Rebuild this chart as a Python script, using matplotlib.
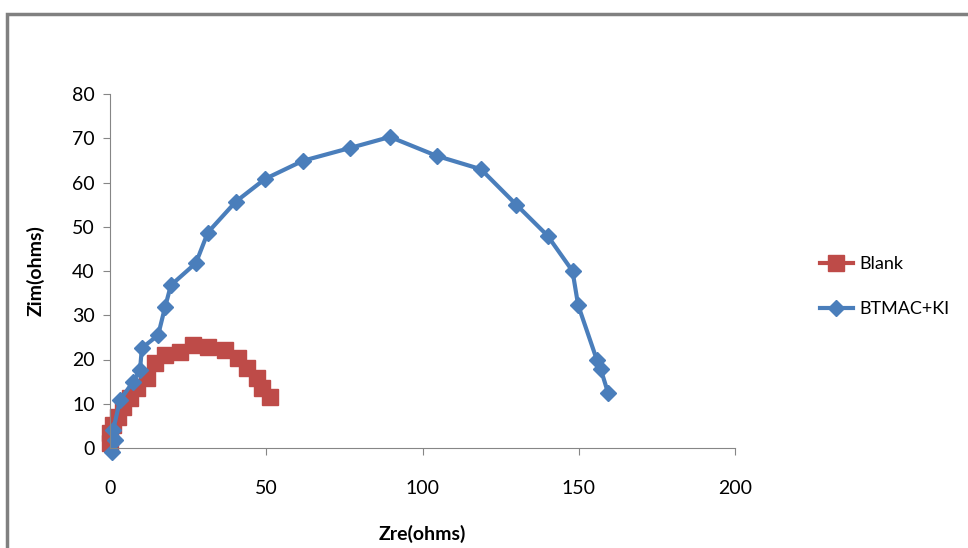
import matplotlib
matplotlib.use("Agg")
import matplotlib.pyplot as plt
from matplotlib.patches import Rectangle

plt.rcParams['font.family'] = ['Lato', 'DejaVu Sans']

blank_zre = [0, 0, 1.1, 2.7, 4.3, 6.4, 8.5, 11.7, 14.4, 17.6, 22.4, 26.5,
             31.5, 36.8, 40.9, 43.7, 46.9, 48.7, 51.2]
blank_zim = [1.1, 3.3, 5.2, 7.1, 9.3, 11.2, 13.5, 15.8, 19.1, 21.0, 21.8, 23.3,
             22.9, 22.1, 20.3, 18.0, 15.8, 13.5, 11.6]

btmac_zre = [0.5, 1.6, 1.0, 3.2, 7.4, 9.6, 10.2, 15.4, 17.6, 19.5, 27.5, 31.3,
             40.3, 49.6, 61.7, 76.8, 89.6, 104.6, 118.7, 130, 140, 148, 149.8,
             155.8, 157, 159.4]
btmac_zim = [-1, 1.8, 4.0, 10.8, 15.0, 17.6, 22.6, 25.5, 31.8, 36.8, 41.8, 48.7,
             55.7, 60.8, 64.9, 67.8, 70.3, 66, 63, 55, 48, 40, 32.3,
             19.9, 17.9, 12.4]

x_ticks = [0, 50, 100, 150, 200]
y_ticks = [0, 10, 20, 30, 40, 50, 60, 70, 80]

fig = plt.figure(figsize=(9.68, 5.48), dpi=100)
# gray frame of the original chart area, cut at right and bottom
fig.patches.append(Rectangle((7 / 968, -0.1), 1.2, 1.1 - 14 / 548,
                             transform=fig.transFigure, fill=False,
                             edgecolor='#808080', linewidth=2.5))
ax = fig.add_axes([110 / 968, 100 / 548, 625 / 968, 354 / 548])

ax.plot(blank_zre, blank_zim, color='#BE4B48', linewidth=3, marker='s',
        markersize=11.5, label='Blank', clip_on=False)
ax.plot(btmac_zre, btmac_zim, color='#4A7EBB', linewidth=3, marker='D',
        markersize=8, label='BTMAC+KI', clip_on=False)

ax.set_xlim(0, 200)
ax.set_ylim(0, 80)
ax.set_xticks(x_ticks)
ax.set_yticks(y_ticks)
for s in ['top', 'right']:
    ax.spines[s].set_visible(False)
for s in ['left', 'bottom']:
    ax.spines[s].set_color('#868686')
ax.tick_params(colors='#868686', labelcolor='black', labelsize=14, length=5)
ax.tick_params(axis='x', pad=18)
ax.tick_params(axis='y', pad=6)

ax.set_xlabel('Zre(ohms)', fontsize=14, fontweight='bold', labelpad=20)
ax.set_ylabel('Zim(ohms)', fontsize=14, fontweight='bold', labelpad=20)

ax.legend(loc='center left', bbox_to_anchor=(1.11, 0.455), frameon=False,
          fontsize=13, labelspacing=1.6, handlelength=1.8, handletextpad=0.4)

fig.savefig('out.png', dpi=100)
